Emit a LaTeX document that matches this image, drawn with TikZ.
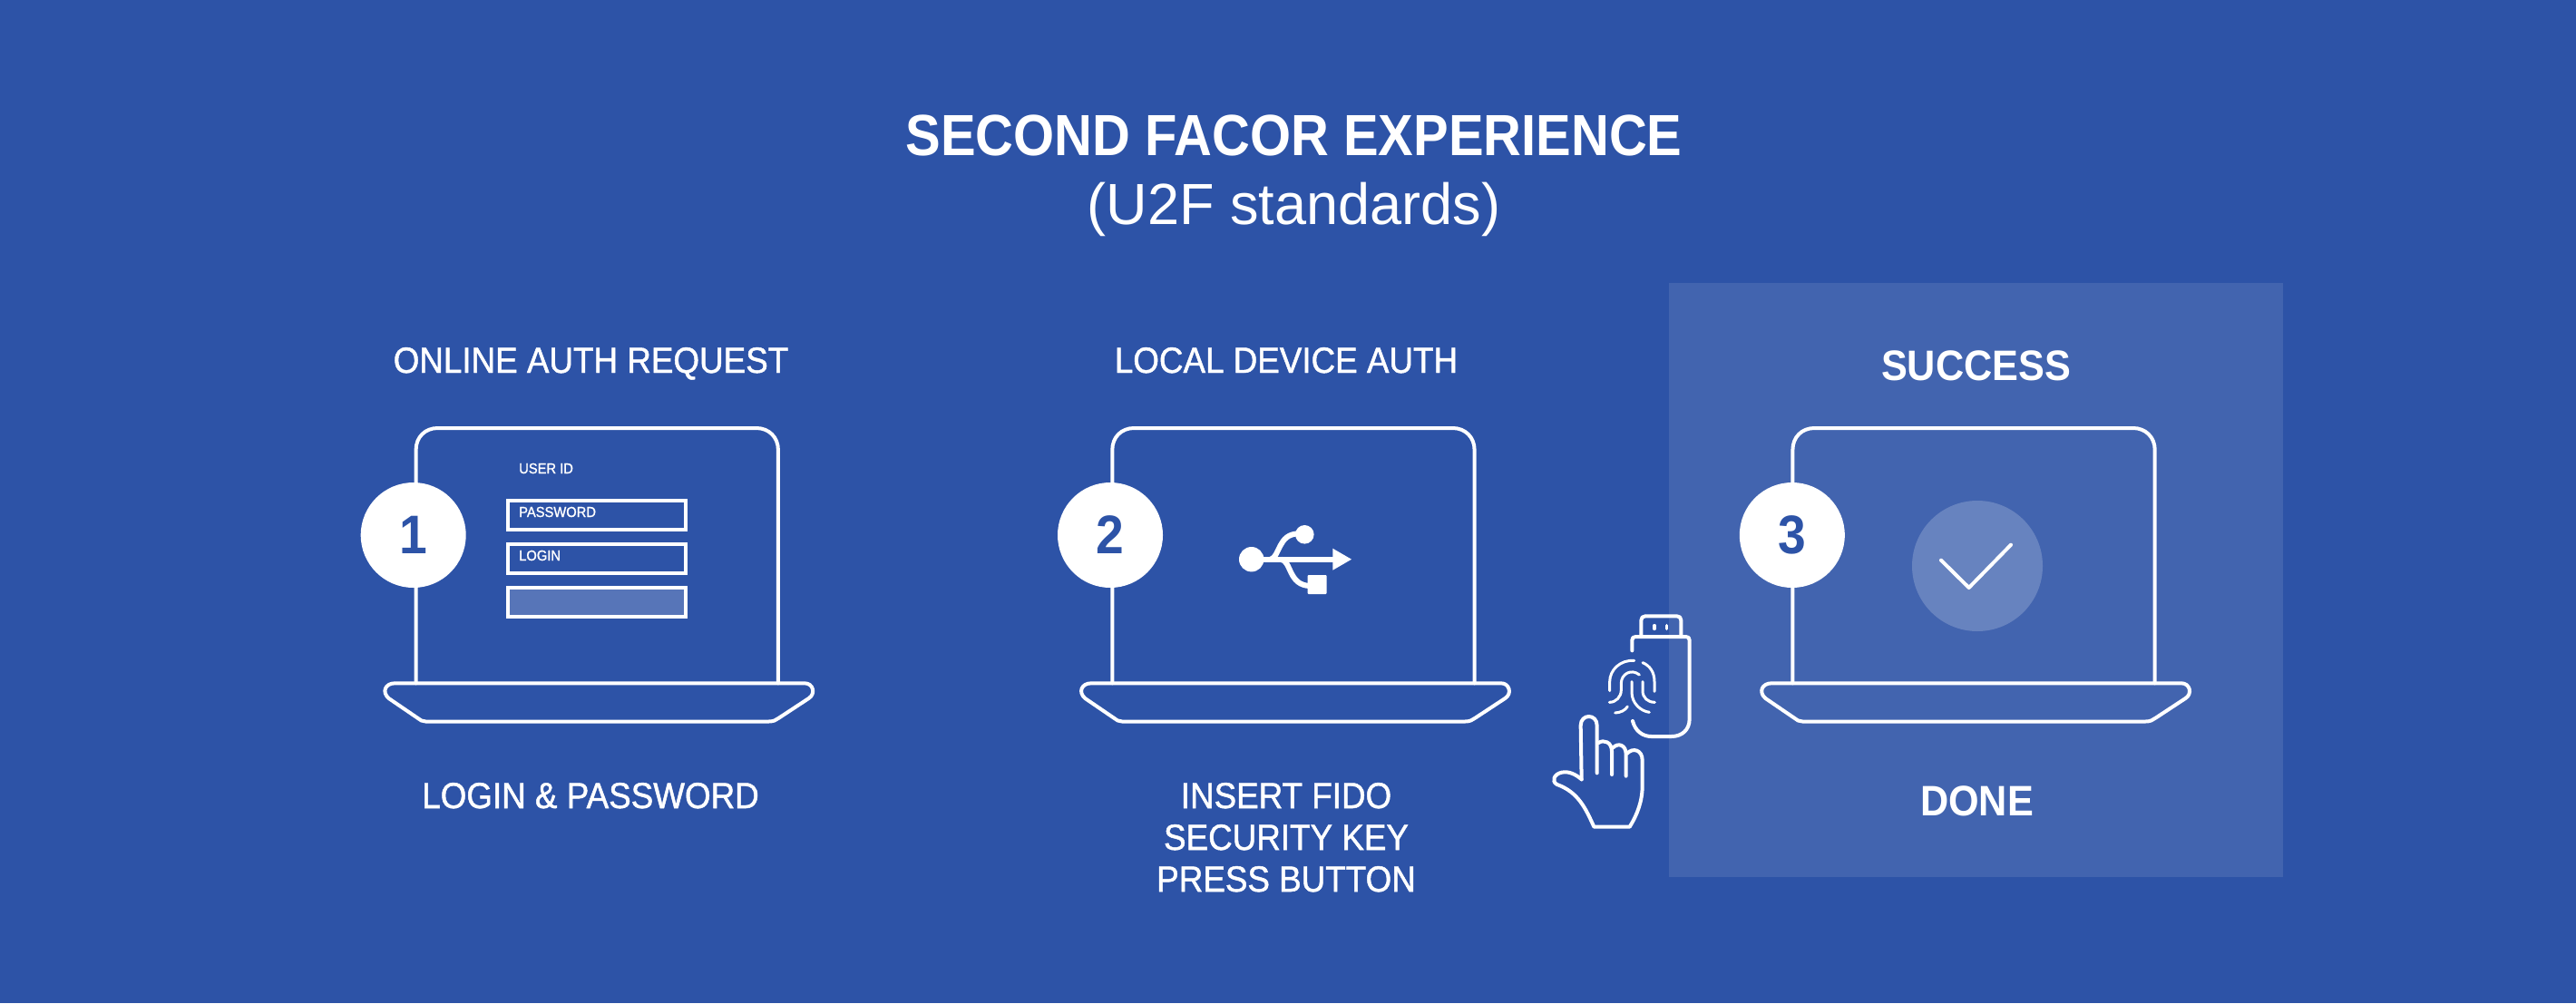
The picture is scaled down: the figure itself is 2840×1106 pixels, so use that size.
\documentclass[tikz,border=0pt]{standalone}
\usepackage{fontspec}
\setmainfont[FakeStretch=0.92]{Liberation Sans}
\newfontfamily\titlefont[FakeStretch=0.905]{Liberation Sans}
\newfontfamily\subfont[FakeStretch=0.985]{Liberation Sans}
\newfontfamily\labfont[FakeStretch=0.92,FakeBold=1.2]{Liberation Sans}

\definecolor{pagebg}{RGB}{45,83,167}

\tikzset{
    outline/.style={draw=white,line width=4pt,line join=round,line cap=round},
    thinline/.style={draw=white,line width=3pt,line cap=round},
    lab/.style={text=white,anchor=base,inner sep=0pt,font=\labfont\fontsize{40}{48}\selectfont},
    headbold/.style={lab,font=\fontsize{47}{56}\selectfont\bfseries},
    small/.style={text=white,anchor=base west,inner sep=0pt,font=\labfont\fontsize{16}{19}\selectfont},
    badge/.style={circle,fill=white,inner sep=0pt,minimum size=116pt,text=pagebg,font=\fontsize{60}{72}\selectfont\bfseries},
    field/.style={outline,line cap=butt,line join=miter},
}

\begin{document}
\begin{tikzpicture}[x=1pt,y=-1pt]
    \useasboundingbox (0,0) rectangle (2840,1106);
    \fill[pagebg] (0,0) rectangle (2840,1106);
    \fill[white,opacity=.1] (1840,311.5) rectangle (2517,967);

    % laptops
    \foreach \dx in {458.6,1226.3,1976.4}{
        \begin{scope}[xshift=\dx pt]
            \draw[outline] (0,753.3) -- (0,496) .. controls (0,482) and (10,472) .. (24,472)
                -- (375.3,472) .. controls (389,472) and (399.3,482) .. (399.3,496) -- (399.3,753.3);
            \draw[outline] (10.7,795.5) -- (389,795.5) .. controls (394,795.5) and (397,794) .. (400,791.7)
                -- (433,770) .. controls (441,765) and (438,753.3) .. (428.5,753.3)
                -- (-23,753.3) .. controls (-34,753.3) and (-38,763) .. (-30,770)
                -- (1.8,791.7) .. controls (4.5,794) and (7,795.5) .. (10.7,795.5) -- cycle;
        \end{scope}
    }

    \node[badge] (one) at (455.7,590) {1};
    \node[badge] (two) at (1224,590) {2};
    \node[badge] (three) at (1975.8,590) {3};

    % login form
    \draw[field] (560,552) rectangle (756,584);
    \draw[field] (560,600) rectangle (756,632);
    \fill[white,opacity=.2] (560,648) rectangle (756,680);
    \draw[field] (560,648) rectangle (756,680);
    \node[small] (userid) at (572,522) {USER ID};
    \node[small] (password) at (572,570) {PASSWORD};
    \node[small] (login) at (572,618) {LOGIN};

    % usb symbol
    \fill[white] (1379.7,616.7) circle (13.7);
    \fill[white] (1438.3,589.3) circle (10.3);
    \fill[white,rounded corners=1pt] (1441.7,634) rectangle (1462.7,655);
    \fill[white,line join=round] (1469.3,604.7) -- (1490,616.7) -- (1469.3,628.7) -- cycle;
    \draw[white,line width=6pt] (1385,616.7) -- (1472,616.7);
    \draw[white,line width=6pt] (1401,616.7) .. controls (1411,614) and (1409,588) .. (1432,588.5);
    \draw[white,line width=6pt] (1412,616.7) .. controls (1424,618) and (1420,646) .. (1445,646);

    % check mark
    \fill[white,opacity=.2] (2180,624) circle (72);
    \draw[outline] (2140,617.7) -- (2170.7,648) -- (2217,600.7);

    % security key and finger, traced at 3:1
    \begin{scope}[shift={(1650,640)},scale=1/3]
        \draw[outline] (448,232) -- (448,198) .. controls (448,190) and (452,186) .. (460,186)
            -- (626,186) .. controls (634,186) and (638,190) .. (638,198) -- (638,458)
            .. controls (638,495) and (612,516) .. (578,516) -- (512,516) .. controls (482,516) and (458,497) .. (450,465);
        \draw[outline] (478,186) -- (478,132) .. controls (478,123) and (483,118) .. (492,118)
            -- (596,118) .. controls (605,118) and (610,123) .. (610,132) -- (610,186);
        \draw[thinline,line width=3.5pt] (522,149) -- (522,160);
        \draw[thinline,line width=3.5pt] (562,149) -- (562,160);
        % fingerprint
        \draw[thinline] (455,265) .. controls (410,262) and (374,295) .. (374,335) -- (374,365);
        \draw[thinline] (483,272) .. controls (508,282) and (522,305) .. (522,335) -- (522,367);
        \draw[thinline] (472,312) .. controls (445,290) and (412,310) .. (412,340) -- (412,362) .. controls (412,385) and (395,403) .. (373,403);
        \draw[thinline] (447,335) -- (447,370) .. controls (447,405) and (475,432) .. (505,436);
        \draw[thinline] (483,335) -- (483,365) .. controls (483,388) and (500,403) .. (523,403);
        \draw[thinline] (392,438) .. controls (410,437) and (425,430) .. (433,417);
        % hand
        \draw[outline] (281,658) -- (278,480) .. controls (278,440) and (332,440) .. (332,480) -- (332,637);
        \draw[outline] (337,537) .. controls (355,525) and (381,535) .. (381,565) -- (381,642);
        \draw[outline] (385,553) .. controls (403,535) and (428,545) .. (428,575) -- (428,647);
        \draw[outline] (432,572) .. controls (450,552) and (482,560) .. (482,595) -- (482,680)
            .. controls (482,730) and (465,775) .. (440,815) -- (322,815)
            .. controls (295,755) and (270,700) .. (200,675) .. controls (180,665) and (190,640) .. (215,635)
            .. controls (240,630) and (262,642) .. (281,658);
    \end{scope}

    % texts
    \node[lab,font=\titlefont\fontsize{64}{76}\selectfont\bfseries] (title) at (1426.5,171.7) {SECOND FACOR EXPERIENCE};
    \node[lab,font=\subfont\fontsize{64}{76}\selectfont] (subtitle) at (1426.5,247.7) {(U2F standards)};
    \node[lab] (headone) at (651.5,411) {ONLINE AUTH REQUEST};
    \node[lab] (headtwo) at (1418,411) {LOCAL DEVICE AUTH};
    \node[headbold] (headthree) at (2178.5,419) {SUCCESS};
    \node[lab] (footone) at (651,891) {LOGIN \& PASSWORD};
    \node[lab] (foottwoa) at (1418,891) {INSERT FIDO};
    \node[lab] (foottwob) at (1418,937) {SECURITY KEY};
    \node[lab] (foottwoc) at (1418,983) {PRESS BUTTON};
    \node[headbold] (footthree) at (2179.5,899) {DONE};
\end{tikzpicture}
\end{document}
